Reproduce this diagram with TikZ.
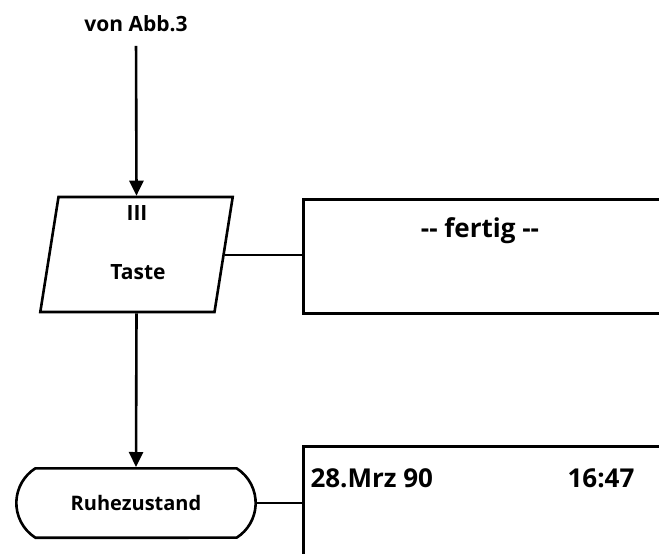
\documentclass[tikz,border=0pt]{standalone}
\usepackage{fontspec}
\setmainfont{Open Sans}
\usetikzlibrary{positioning, arrows.meta, shapes.geometric, shapes.misc}

\begin{document}
\begin{tikzpicture}[
    inout/.style={trapezium, trapezium left angle=81, trapezium right angle=99, draw=black, line width=2.6pt, inner xsep=78pt, inner ysep=57.5pt},
    terminal/.style={rounded rectangle, rounded rectangle arc length=115, draw=black, line width=2.6pt, minimum width=246pt, inner ysep=27pt, font=\fontsize{20}{24}\selectfont\bfseries},
    display/.style={rectangle, draw=black, line width=2.6pt, anchor=north west, minimum width=420pt},
    lbl/.style={font=\fontsize{21}{25}\selectfont\bfseries},
    dtxt/.style={font=\fontsize{26}{30}\selectfont\bfseries},
    arrow/.style={-{Triangle[length=15pt,width=14pt]}, line width=2.6pt},
    link/.style={line width=2pt}
]
\useasboundingbox (0pt,0pt) rectangle (659pt,-554pt);
\clip (0pt,0pt) rectangle (659pt,-554pt);

% Flussdiagramm
\node[lbl, anchor=base] (von) at (136pt,-31pt) {von Abb.3};
\node[inout] (taste) at (136.5pt,-254.5pt) {};
\node[lbl, anchor=base] (key) at (137pt,-220pt) {III};
\node[lbl, anchor=base] (tastetxt) at (138pt,-279pt) {Taste};
\node[terminal] (ruhe) at (136pt,-503pt) {Ruhezustand};

% Anzeigen
\node[display, minimum height=114pt] (disp1) at (302pt,-198pt) {};
\node[display, minimum height=200pt] (disp2) at (302pt,-445pt) {};
\node[dtxt, anchor=base] (fertig) at (480pt,-237pt) {-{}- fertig -{}-};
\node[dtxt, anchor=base west] (datum) at (307pt,-487pt) {28.Mrz 90};
\node[dtxt, anchor=base] (zeit) at (601pt,-487pt) {16:47};

% Verbindungen
\draw[arrow, shorten <=11pt] (von.south) -- (taste.north);
\draw[arrow] (taste.south) -- (ruhe.north);
\draw[link] (taste.east) -- (taste.east -| disp1.west);
\draw[link] (ruhe.east) -- (ruhe.east -| disp2.west);
\end{tikzpicture}
\end{document}
